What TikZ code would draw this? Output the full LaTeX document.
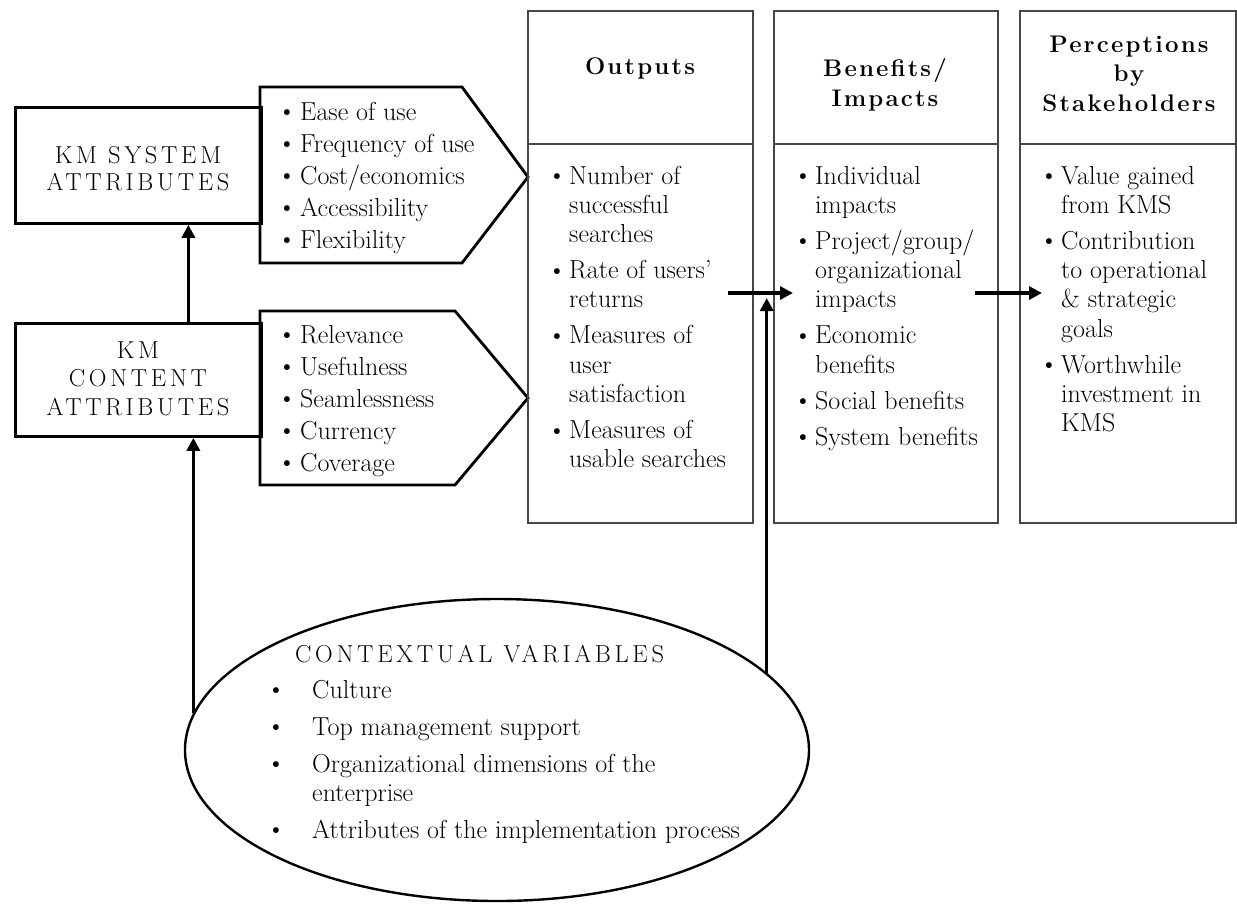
\documentclass[tikz,border=0pt]{standalone}
\usepackage{fontspec}
\setmainfont{Latin Modern Roman}
\usetikzlibrary{arrows.meta,shapes.geometric}
\newcommand\bul[1]{\makebox[#1][l]{\hspace*{-3.5pt}\raisebox{0.5pt}{\fontsize{26}{26}\selectfont\textbullet}}}
\begin{document}
\begin{tikzpicture}[x=1pt,y=-1pt,
  colbox/.style={draw=black!72, line width=2.2pt, inner sep=0pt, anchor=north west},
  leftbox/.style={draw=black, line width=2.8pt, inner sep=0pt, anchor=north west},
  pent/.style={draw=black, line width=2.8pt, line join=miter},
  arr/.style={line width=3.3pt, -{Triangle[length=13pt,width=13pt]}},
  ttl/.style={inner sep=0pt, anchor=base, font=\fontsize{24.5}{27.5}\selectfont\addfontfeature{LetterSpace=15}},
  hdr/.style={inner sep=0pt, anchor=base, font=\fontsize{24}{30}\selectfont\bfseries\addfontfeature{LetterSpace=9}},
  plist/.style={inner sep=0pt, anchor=base west, font=\fontsize{26}{32}\selectfont},
  clist/.style={inner sep=0pt, anchor=base west, font=\fontsize{26}{29.3}\selectfont},
]
\useasboundingbox (0,0) rectangle (1237,903);

% left boxes
\node[leftbox, minimum width=246pt, minimum height=116pt] (box1) at (14,106) {};
\node[leftbox, minimum width=246pt, minimum height=113pt] (box2) at (14,322) {};
\node[ttl] (t1) at (138,163) {\begin{tabular}[t]{@{}c@{}}KM SYSTEM\\ATTRIBUTES\end{tabular}};
\node[ttl, font=\fontsize{24.5}{28.5}\selectfont\addfontfeature{LetterSpace=15}] (t2) at (138,358) {\begin{tabular}[t]{@{}c@{}}KM\\CONTENT\\ATTRIBUTES\end{tabular}};

% pentagons
\draw[pent] (260,87) -- (462,87) -- (528,177) -- (462,263) -- (260,263) -- cycle;
\draw[pent] (260,311) -- (455,311) -- (528,398) -- (455,485) -- (260,485) -- cycle;
\node[plist] (p1) at (281,120) {\begin{tabular}[t]{@{}l@{}l@{}}
\bul{19pt}&Ease of use\\
\bul{19pt}&Frequency of use\\
\bul{19pt}&Cost/economics\\
\bul{19pt}&Accessibility\\
\bul{19pt}&Flexibility
\end{tabular}};
\node[plist] (p2) at (281,343) {\begin{tabular}[t]{@{}l@{}l@{}}
\bul{19pt}&Relevance\\
\bul{19pt}&Usefulness\\
\bul{19pt}&Seamlessness\\
\bul{19pt}&Currency\\
\bul{19pt}&Coverage
\end{tabular}};

% columns
\node[colbox, minimum width=225pt, minimum height=133pt] (outh) at (527,10) {};
\node[colbox, minimum width=225pt, minimum height=379pt] (outb) at (527,143) {};
\node[colbox, minimum width=224pt, minimum height=133pt] (benh) at (773,10) {};
\node[colbox, minimum width=224pt, minimum height=379pt] (benb) at (773,143) {};
\node[colbox, minimum width=216pt, minimum height=133pt] (perh) at (1019,10) {};
\node[colbox, minimum width=216pt, minimum height=379pt] (perb) at (1019,143) {};

\node[hdr] (h1) at (640,74) {Outputs};
\node[hdr] (h2) at (885,76) {\begin{tabular}[t]{@{}c@{}}Benefits/\\Impacts\end{tabular}};
\node[hdr, font=\fontsize{24}{29.5}\selectfont\bfseries\addfontfeature{LetterSpace=9}] (h3) at (1129,52) {\begin{tabular}[t]{@{}c@{}}Perceptions\\by\\Stakeholders\end{tabular}};

\node[clist] (l1) at (551,184) {\begin{tabular}[t]{@{}l@{}l@{}}
\bul{18pt}&Number of\\
&successful\\
&searches\\[6.7pt]
\bul{18pt}&Rate of users'\\
&returns\\[6.7pt]
\bul{18pt}&Measures of\\
&user\\
&satisfaction\\[6.7pt]
\bul{18pt}&Measures of\\
&usable searches
\end{tabular}};
\node[clist] (l2) at (797,184) {\begin{tabular}[t]{@{}l@{}l@{}}
\bul{18pt}&Individual\\
&impacts\\[6.7pt]
\bul{18pt}&Project/group/\\
&organizational\\
&impacts\\[6.7pt]
\bul{18pt}&Economic\\
&benefits\\[6.7pt]
\bul{18pt}&Social benefits\\[6.7pt]
\bul{18pt}&System benefits
\end{tabular}};
\node[clist] (l3) at (1043,184) {\begin{tabular}[t]{@{}l@{}l@{}}
\bul{18pt}&Value gained\\
&from KMS\\[6.7pt]
\bul{18pt}&Contribution\\
&to operational\\
&\& strategic\\
&goals\\[6.7pt]
\bul{18pt}&Worthwhile\\
&investment in\\
&KMS
\end{tabular}};

% ellipse
\node[draw, ellipse, line width=2.4pt, minimum width=624pt, minimum height=302pt, inner sep=0pt] (ctx) at (497,750) {};
\node[inner sep=0pt, anchor=base west, font=\fontsize{24.5}{28}\selectfont\addfontfeature{LetterSpace=15}] (ctxt) at (295,662) {CONTEXTUAL VARIABLES};
\node[inner sep=0pt, anchor=base west, font=\fontsize{26}{29.5}\selectfont] (ctxl) at (270,698) {\begin{tabular}[t]{@{}l@{}l@{}}
\bul{42pt}&Culture\\[7.5pt]
\bul{42pt}&Top management support\\[7.5pt]
\bul{42pt}&Organizational dimensions of the\\
&enterprise\\[7pt]
\bul{42pt}&Attributes of the implementation process
\end{tabular}};

% connectors
\coordinate (h1s) at (728,293);
\coordinate (h1e) at (793,293);
\coordinate (h2s) at (975,293);
\coordinate (h2e) at (1042,293);
\coordinate (v1e) at (763,298);
\draw[arr] ([xshift=50pt]box2.north) -- ([xshift=50pt]box1.south);
\draw[arr] (ctx.173) -- (ctx.173 |- box2.south);
\draw[arr] (h1s) -- (h1e);
\draw[arr] (ctx.16.5) -- (ctx.16.5 |- v1e);
\draw[arr] (h2s) -- (h2e);
\end{tikzpicture}
\end{document}
